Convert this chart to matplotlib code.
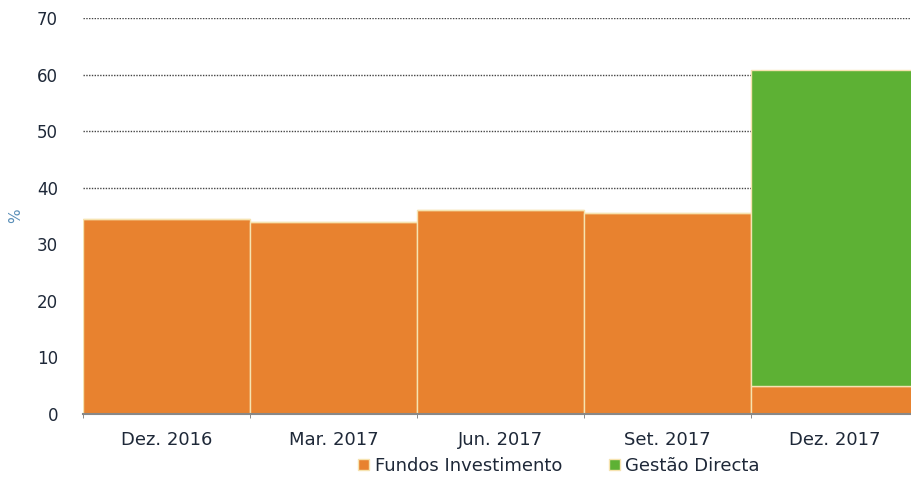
import matplotlib
matplotlib.use("Agg")
import matplotlib.pyplot as plt
import numpy as np

# dados (%)
periodos = ['Dez. 2016', 'Mar. 2017', 'Jun. 2017', 'Set. 2017', 'Dez. 2017']
fundos = [34.5, 33.9, 36.0, 35.6, 4.9]
gestao = [0, 0, 0, 0, 56.0]

cor_fundos = '#E8822F'
cor_gestao = '#5DB134'
cor_texto = '#1E2838'

plt.rcParams['font.family'] = ['DejaVu Sans']

fig = plt.figure(figsize=(9.12, 4.91), dpi=100)
ax = fig.add_axes([0.091, 0.157, 0.916, 0.806])

x = np.arange(len(periodos))
ax.bar(x, fundos, width=1.0, color=cor_fundos, edgecolor='#F6E3B0', linewidth=1,
       label='Fundos Investimento', zorder=2)
ax.bar(x, gestao, width=1.0, bottom=fundos, color=cor_gestao, edgecolor='#F6E3B0',
       linewidth=1, label='Gestão Directa', zorder=2)

ax.set_xlim(-0.5, len(periodos) - 0.5)
ax.set_ylim(0, 70)
ax.set_yticks(range(0, 71, 10))
ax.yaxis.grid(True, linestyle=(0, (1, 1)), color='#444444', linewidth=1.0, zorder=0)
ax.set_axisbelow(True)

ax.set_xticks(x)
ax.set_xticklabels(periodos, fontsize=13, color=cor_texto)
ax.set_xticks(np.arange(-0.5, len(periodos), 1), minor=True)
ax.tick_params(axis='x', which='major', length=0, pad=12)
ax.tick_params(axis='x', which='minor', length=3, color='#777777')
ax.tick_params(axis='y', length=0, labelsize=12, labelcolor=cor_texto, pad=18)

for s in ['top', 'right', 'left']:
    ax.spines[s].set_visible(False)
ax.spines['bottom'].set_color('#888888')
ax.spines['bottom'].set_linewidth(1.5)

ax.set_ylabel('%', color='#5A8FB8', fontsize=11, labelpad=10)

fig.legend(loc='center', bbox_to_anchor=(0.613, 0.051), ncol=2, frameon=False,
           fontsize=13, handlelength=0.6, handleheight=0.6, handletextpad=0.3,
           columnspacing=2.6, labelcolor=cor_texto)

fig.savefig('out.png', dpi=100)
